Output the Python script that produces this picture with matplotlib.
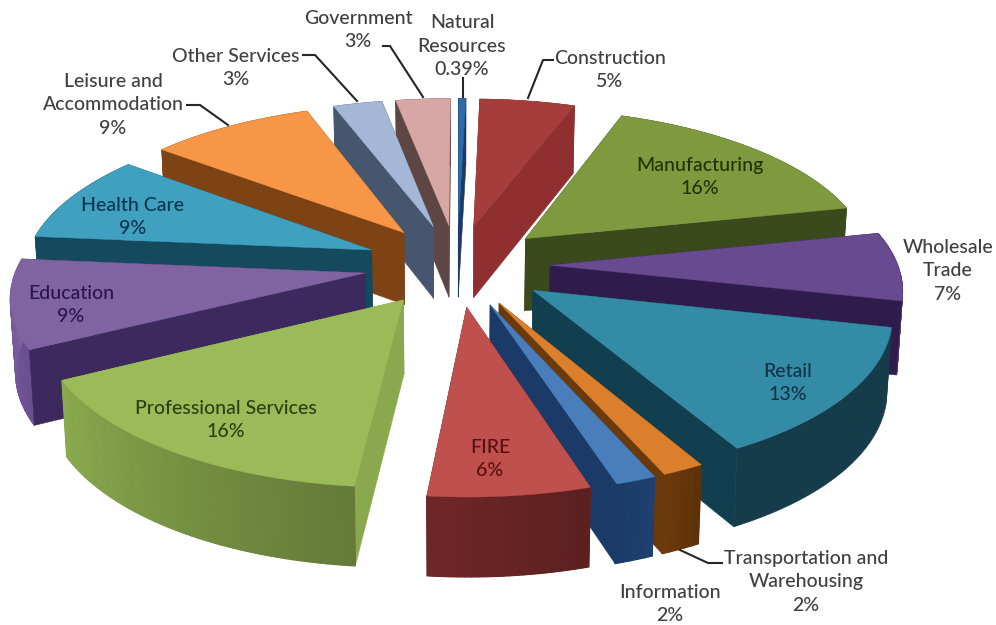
import numpy as np
import matplotlib
matplotlib.use('Agg')
import matplotlib.pyplot as plt
from matplotlib.colors import to_rgb

# share of total, clockwise from the top
categories = ['Construction', 'Manufacturing', 'Wholesale\nTrade', 'Retail',
              'Transportation and\nWarehousing', 'Information', 'FIRE',
              'Professional Services', 'Education', 'Health Care',
              'Leisure and\nAccommodation', 'Other Services', 'Government',
              'Natural\nResources']
values = [5.15, 16.1, 7.1, 13.4, 1.67, 1.6, 6.4, 15.8, 9.2, 9.2, 8.9, 2.64, 2.94, 0.39]
pct_labels = ['5%', '16%', '7%', '13%', '2%', '2%', '6%', '16%', '9%', '9%', '9%', '3%', '3%', '0.39%']

top_cols = ['#A43D3B', '#7F9A3E', '#674A90', '#338BA6', '#DB7F2C', '#4A7EBB', '#C0504D',
            '#9BBB59', '#8064A2', '#3FA0BF', '#F79646', '#A5B7D7', '#D8A6A5', '#2C6AA8']
face_cols = ['#8F2F2F', '#3B4A1C', '#301C4C', '#123F50', '#6B3A0C', '#1B3A68', '#642322',
             '#8AA84E', '#3C2A5E', '#154A5E', '#7E4315', '#46566E', '#5D4644', '#1B3A68']
wall_a = ['#7A2A2A', '#3B4A1C', '#5A4080', '#163C4C', '#6B3A0C', '#1B3A68', '#6E2726',
          '#8AAA4E', '#7E61A2', '#154A5E', '#7E4315', '#46566E', '#5D4644', '#1B3A68']
wall_b = ['#7A2A2A', '#3B4A1C', '#3C2A5E', '#163C4C', '#5E3208', '#1F4070', '#5C2020',
          '#657A38', '#6A4F90', '#154A5E', '#7E4315', '#46566E', '#5D4644', '#1B3A68']
text_cols = ['#404040', '#1F3300', '#404040', '#0F3545', '#404040', '#404040', '#5A1010',
             '#2A4010', '#2A1550', '#0A3550', '#404040', '#404040', '#404040', '#404040']

# label centres in pixels
label_x = [610, 700, 948, 788, 806, 670, 490, 226, 71, 133, 113, 236, 358, 462]
label_y = [70, 177, 271, 383, 582, 604, 459, 420, 305, 217, 105, 68, 30, 46]

leaders = [[(553, 60), (543, 60), (528, 98)],
           [(463, 78), (463, 97)],
           [(383, 46), (390, 46), (423, 97)],
           [(303, 55), (315, 55), (357, 101)],
           [(187, 105), (200, 105), (228, 125)],
           [(680, 550), (708, 563), (722, 563)]]

cx, cy = 457, 265
rx, ry = 347.4, 153
persp = 0.13
explode = 0.268
height = 73
start_deg = 1.5


def project(X, Y, depth=0.0):
    w = 1 / (1 - persp * Y)
    shrink = 1 - 0.012 * depth
    return (cx + X * rx * w * shrink,
            cy + Y * ry * w + depth * height * w ** 0.5)


def mix(c1, c2, t):
    c1, c2 = np.array(to_rgb(c1)), np.array(to_rgb(c2))
    return tuple(c1 + (c2 - c1) * t)


plt.rcParams['font.family'] = ['Lato', 'DejaVu Sans']

fig = plt.figure(figsize=(9.96, 6.25), dpi=100)
ax = fig.add_axes([0, 0, 1, 1])
ax.set_xlim(0, 996)
ax.set_ylim(625, 0)
ax.axis('off')

total = sum(values)
edges = np.radians(start_deg + np.cumsum([0] + values) / total * 360)
mids = (edges[:-1] + edges[1:]) / 2

# back slices first
for i in np.argsort(-np.cos(mids)):
    a0, a1, m = edges[i], edges[i + 1], mids[i]
    ox, oy = explode * np.sin(m), -explode * np.cos(m)
    arc = np.linspace(a0, a1, max(int(np.degrees(a1 - a0)), 2) + 1)
    X = ox + np.sin(arc)
    Y = oy - np.cos(arc)

    faces = []
    for k in (0, -1):
        xs, ys = np.array([ox, X[k], X[k], ox]), np.array([oy, Y[k], Y[k], oy])
        px, py = project(xs, ys, np.array([0, 0, 1, 1]))
        faces.append((ys.mean(), px, py, face_cols[i], 0.4))

    # outer wall: solid backing, then gradient strips on top so no seams show
    wall_depth = Y.mean()
    px = np.r_[project(X, Y)[0], project(X[::-1], Y[::-1], 1.0)[0]]
    py = np.r_[project(X, Y)[1], project(X[::-1], Y[::-1], 1.0)[1]]
    faces.append((wall_depth, px, py, mix(wall_a[i], wall_b[i], 0.5), 0.4))
    if wall_a[i] != wall_b[i]:
        n = len(arc) - 1
        for k in range(n):
            xs = np.array([X[k], X[k + 1], X[k + 1], X[k]])
            ys = np.array([Y[k], Y[k + 1], Y[k + 1], Y[k]])
            px, py = project(xs, ys, np.array([0, 0, 1, 1]))
            t = k / max(n - 1, 1)
            # wall_a is the end nearer the left of the picture
            if np.sin(m) > 0:
                t = 1 - t if np.cos(m) < 0 else t
            else:
                t = 1 - t
            faces.append((wall_depth, px, py, mix(wall_a[i], wall_b[i], t), 1.0))
    faces.sort(key=lambda f: f[0])
    for _, px, py, col, lw in faces:
        ax.fill(px, py, color=col, lw=lw, zorder=2)

    px, py = project(np.r_[ox, X], np.r_[oy, Y])
    ax.fill(px, py, color=top_cols[i], lw=0.3, zorder=2)

for pts in leaders:
    xs, ys = zip(*pts)
    ax.plot(xs, ys, color='#262626', lw=1.5, zorder=3)

for i, name in enumerate(categories):
    ax.text(label_x[i], label_y[i], name + '\n' + pct_labels[i], ha='center', va='center',
            fontsize=14, fontweight='medium', color=text_cols[i], linespacing=1.48, zorder=4)

fig.savefig('out.png', dpi=100)
